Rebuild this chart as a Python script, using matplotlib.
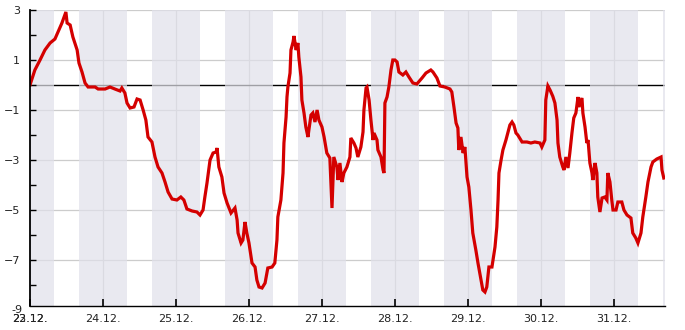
import matplotlib
matplotlib.use("Agg")
import matplotlib.pyplot as plt
import matplotlib.dates as mdates
import pandas as pd

# hours since 23.12. 00:00 and measured values
hours = [
    0, 1.6, 3.3, 4.9, 6.6, 8.2, 9.2, 10.5, 11.8, 12.2, 13.2, 14.1, 15.5, 16.1,
    17.1, 18.1, 19.1, 21.4, 22.4, 24.7, 26.3, 27.9, 29.6, 30.2, 31.2, 31.9,
    32.9, 34.2, 35.2, 36.2, 37.2, 38.1, 38.8, 40.1, 41.1, 42.1, 43.4, 44.4,
    45.4, 46.7, 48.3, 49.6, 50.6, 51.6, 53.3, 54.9, 55.9, 56.9, 57.5, 58.2,
    59.2, 60.2, 61.2, 61.5, 62.1, 63.1, 63.8, 64.8, 66.1, 67.4, 68.1, 68.4,
    69.4, 70.0, 70.7, 71.3, 72.0, 73.0, 74.0, 74.6, 75.3, 76.3, 77.3, 78.2,
    79.6, 80.5, 81.2, 81.5, 82.5, 83.2, 83.5, 84.2, 84.5, 84.8, 85.5, 85.8,
    86.5, 86.8, 87.5, 88.1, 88.4, 89.1, 89.4, 90.1, 90.7, 91.4, 91.7, 92.4,
    93.0, 93.7, 94.4, 95.0, 96.0, 96.7, 97.6, 98.6, 99.3, 99.9, 100.9, 101.3,
    101.9, 102.6, 103.2, 104.2, 105.2, 105.5, 106.5, 107.2, 107.8, 108.8,
    109.5, 109.8, 110.5, 110.8, 111.5, 112.1, 112.8, 113.1, 114.1, 114.4,
    115.4, 116.1, 116.4, 116.7, 117.4, 118.0, 118.7, 119.3, 120.0, 120.7,
    121.3, 122.6, 123.6, 124.6, 125.9, 127.2, 128.9, 130.2, 131.8, 132.5,
    133.8, 134.8, 136.4, 138.1, 138.7, 139.4, 140.1, 140.7, 141.0, 141.7,
    142.4, 143.0, 143.7, 144.3, 145.0, 145.6, 146.6, 147.3, 148.3, 148.9,
    149.6, 150.2, 150.9, 151.9, 152.9, 153.5, 153.9, 154.2, 154.9, 155.5,
    156.5, 157.2, 157.8, 158.5, 159.1, 159.8, 160.4, 161.8, 163.4, 164.7,
    166.0, 167.7, 168.3, 169.3, 169.6, 170.3, 171.0, 171.9, 172.6, 173.3,
    173.6, 174.2, 175.2, 175.6, 176.2, 176.9, 177.5, 178.2, 178.8, 179.5,
    180.2, 180.5, 181.5, 181.8, 182.5, 183.1, 183.5, 184.1, 184.8, 185.1,
    185.8, 186.4, 186.7, 187.4, 188.1, 189.0, 189.7, 190.0, 190.7, 191.3,
    191.7, 192.7, 193.3, 194.6, 195.3, 196.3, 197.6, 198.2, 199.2, 199.9,
    200.9, 201.5, 202.5, 203.2, 204.2, 204.8, 206.1, 207.5, 207.8, 208.4,
]
values = [
    0.0, 0.6, 1.0, 1.4, 1.68, 1.84, 2.12, 2.48, 2.92, 2.48, 2.4, 1.92, 1.4, 0.88,
    0.52, 0.08, -0.08, -0.08, -0.16, -0.16, -0.08, -0.16, -0.24, -0.12, -0.32, -0.72,
    -0.92, -0.88, -0.56, -0.6, -1.0, -1.4, -2.08, -2.28, -2.88, -3.28, -3.52, -3.88,
    -4.28, -4.56, -4.6, -4.48, -4.6, -4.96, -5.04, -5.08, -5.2, -5.0, -4.48, -3.92,
    -3.0, -2.72, -2.68, -2.52, -3.28, -3.68, -4.32, -4.72, -5.12, -4.92, -5.4, -5.92,
    -6.32, -6.2, -5.48, -5.92, -6.32, -7.12, -7.28, -7.8, -8.08, -8.12, -7.92, -7.32,
    -7.28, -7.12, -6.2, -5.28, -4.6, -3.52, -2.32, -1.28, -0.48, -0.08, 0.48, 1.4,
    1.72, 1.96, 1.4, 1.68, 1.12, 0.32, -0.6, -1.12, -1.68, -2.08, -1.8, -1.2,
    -1.12, -1.48, -1.0, -1.4, -1.68, -2.08, -2.72, -2.92, -4.92, -2.88, -3.28, -3.8,
    -3.12, -3.88, -3.52, -3.28, -2.88, -2.12, -2.32, -2.52, -2.88, -2.48,
    -1.88, -1.0, -0.12, -0.08, -0.6, -1.4, -2.2, -1.92, -2.2, -2.6,
    -2.88, -3.4, -3.52, -0.72, -0.48, -0.08, 0.6, 1.0, 1.0, 0.92,
    0.52, 0.4, 0.52, 0.32, 0.08, 0.04, 0.28, 0.48, 0.6, 0.52,
    0.28, -0.04, -0.08, -0.16, -0.28, -0.88, -1.52, -1.72, -2.6, -2.08,
    -2.72, -2.48, -3.68, -4.08, -5.0, -5.92, -6.6, -7.12, -7.8, -8.2,
    -8.28, -8.08, -7.28, -7.28, -6.48, -5.68, -4.6, -3.52, -3.0, -2.6,
    -2.2, -1.88, -1.6, -1.48, -1.6, -1.92, -2.0, -2.28, -2.28, -2.32,
    -2.28, -2.32, -2.48, -2.2, -0.6, -0.04, -0.2, -0.45, -0.72, -1.4,
    -2.32, -2.88, -3.28, -3.4, -2.88, -3.32, -2.72, -1.92, -1.32, -1.12,
    -0.48, -0.88, -0.52, -1.12, -1.68, -2.32, -2.2, -3.12, -3.52, -3.8,
    -3.12, -3.52, -4.48, -5.08, -4.52, -4.48, -4.6, -3.52, -3.88, -4.6,
    -5.0, -5.0, -4.68, -4.68, -5.0, -5.2, -5.32, -5.92, -6.12, -6.32,
    -5.92, -5.28, -4.48, -3.88, -3.28, -3.08, -2.96, -2.88, -3.4, -3.72,
]

start = pd.Timestamp("2012-12-23 00:00")
end = start + pd.Timedelta(hours=208.8)
times = start + pd.to_timedelta(hours, unit="h")
series = pd.Series(values, index=times)

day_ticks = pd.date_range(start, "2012-12-31", freq="D")
night_starts = pd.date_range("2012-12-22 16:00", "2012-12-31 16:00", freq="D")

fig = plt.figure(figsize=(6.85, 3.3), dpi=100)
ax = fig.add_axes([30 / 685, 24 / 330, 635 / 685, 296 / 330])

ax.set_xlim(start, end)
ax.set_ylim(3 - 296 / 25, 3)

# grid, zero line, then night shading on top (tints the zero line)
for d in day_ticks[1:]:
    ax.axvline(d, color="#cccccc", lw=0.9, zorder=0.5)
for yv in [3, 1, -1, -3, -5, -7]:
    ax.axhline(yv, color="#cccccc", lw=0.9, zorder=0.5)
ax.axhline(0, color="black", lw=1.0, zorder=0.8)
for ns in night_starts:
    ax.axvspan(ns, ns + pd.Timedelta(hours=16), color=(225 / 255, 225 / 255, 234 / 255),
               alpha=0.71, lw=0, zorder=1)

ax.plot(series.index, series.values, color="#d40000", lw=2.3, zorder=3,
        solid_joinstyle="miter")

ax.set_yticks([3, 1, -1, -3, -5, -7])
ax.set_yticks([2, 0, -2, -4, -6, -8], minor=True)
ax.set_xticks(day_ticks)
ax.xaxis.set_major_formatter(mdates.DateFormatter("%d.%m."))
ax.tick_params(axis="both", which="both", direction="in", labelsize=8,
               colors="black", labelcolor="#222222")
ax.tick_params(axis="y", which="major", length=4, width=1, pad=7)
ax.tick_params(axis="y", which="minor", length=4, width=1)
ax.tick_params(axis="x", which="major", length=5, width=1.2, pad=6)

# -9 label sits just below the plot bottom
ax.text(-7 / 635, 3 - 300 / 25, "-9", transform=ax.get_yaxis_transform(),
        ha="right", va="center", fontsize=8, color="#222222")
# the source draws a "22.12." label on top of "23.12."
ax.annotate("22.12.", xy=(mdates.date2num(start), 0),
            xycoords=ax.get_xaxis_transform(),
            xytext=(0, -6), textcoords="offset points",
            ha="center", va="top", fontsize=8, color="#222222")

for side in ["top", "right"]:
    ax.spines[side].set_visible(False)
ax.spines["left"].set_linewidth(1.3)
ax.spines["bottom"].set_linewidth(1.0)
ax.spines["left"].set_zorder(4)

fig.savefig("out.png", dpi=100)
